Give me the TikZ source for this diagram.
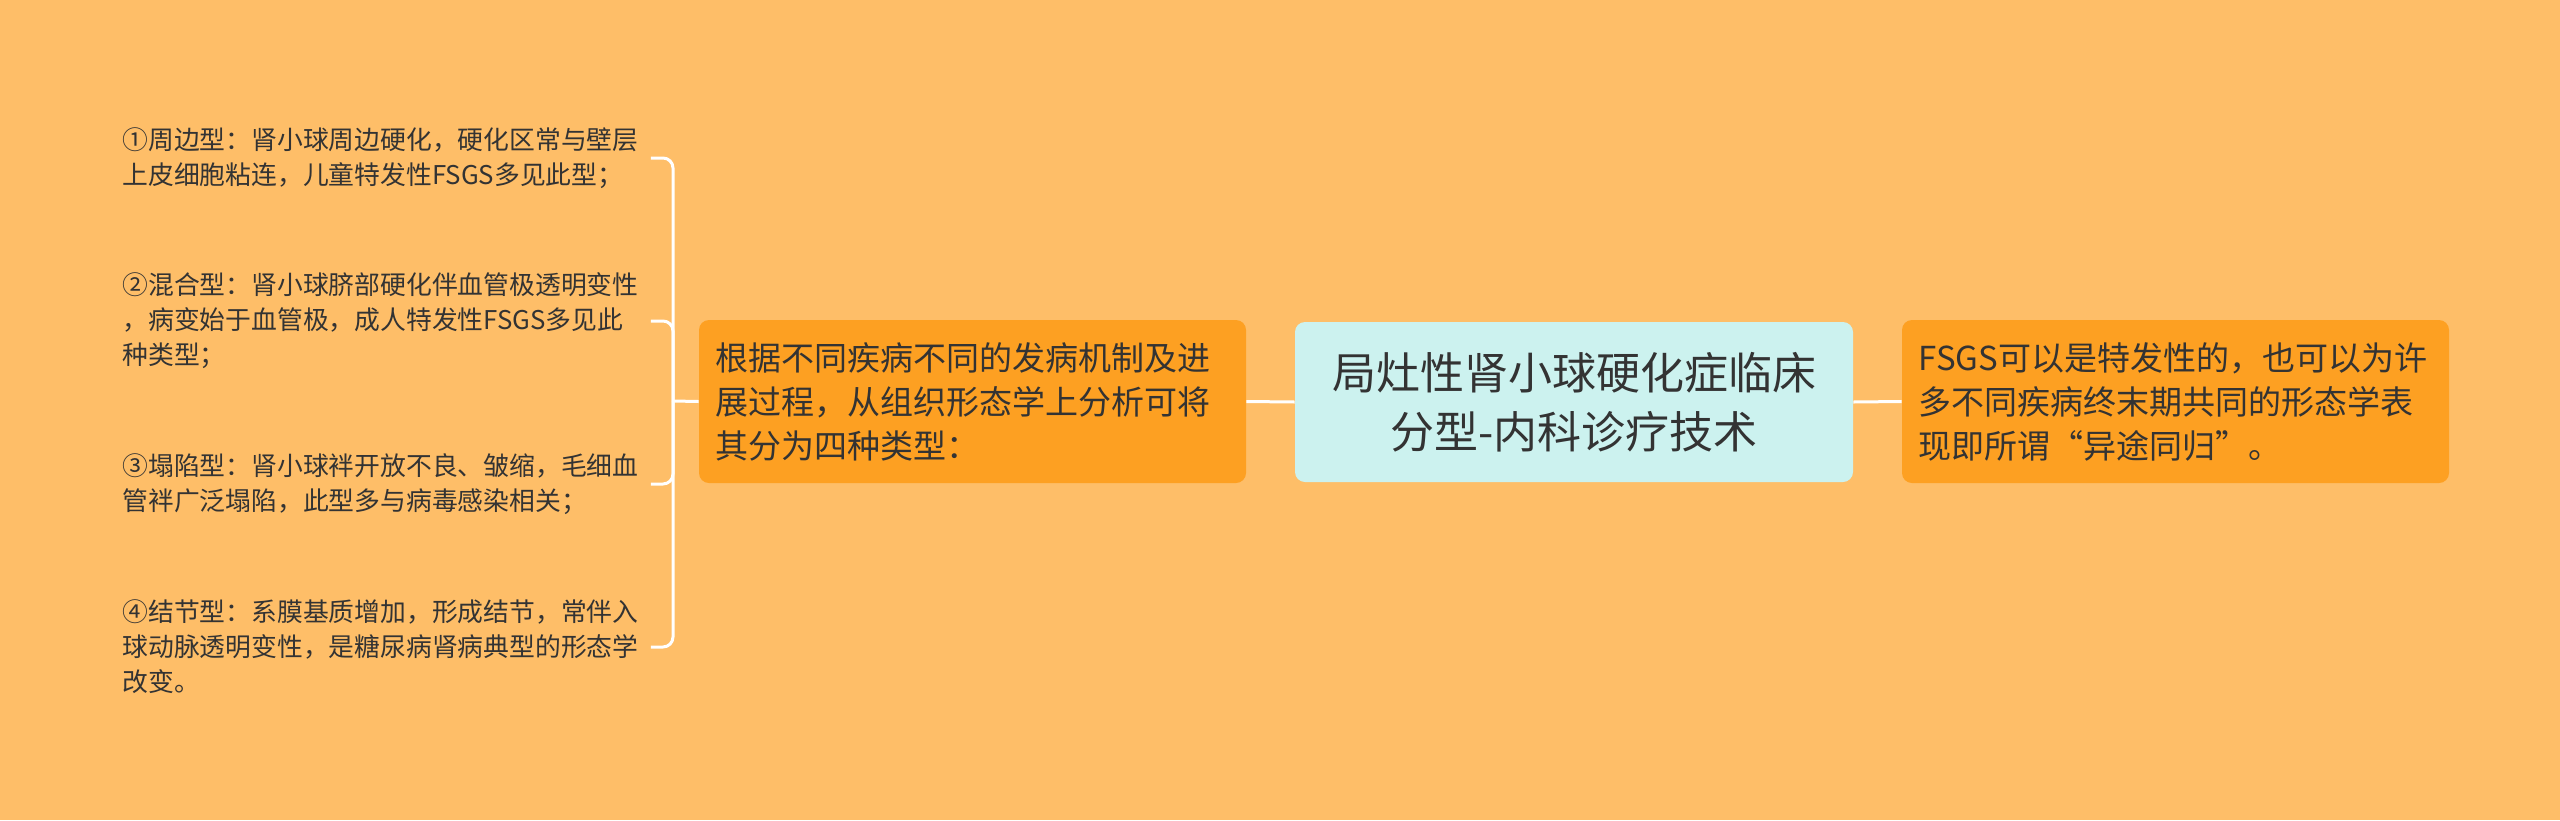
\documentclass[tikz,border=0pt]{standalone}
\usepackage{fontspec}
\setmainfont{Noto Sans CJK SC}
\definecolor{bgc}{RGB}{254,190,104}
\definecolor{boxc}{RGB}{253,160,34}
\definecolor{rootc}{RGB}{204,242,239}
\definecolor{txtc}{RGB}{51,51,51}
\tikzset{
  rootbox/.style={fill=rootc, rounded corners=5pt, minimum width=279pt, minimum height=80pt,
    align=center, text=txtc, inner sep=0pt, font=\fontsize{22}{29.5}\selectfont},
  subbox/.style={fill=boxc, rounded corners=5pt, minimum width=273.5pt, minimum height=81.5pt,
    text width=257pt, inner xsep=8.25pt, inner ysep=0pt, align=left, text=txtc,
    font=\fontsize{16.5}{22}\selectfont},
  leaf/.style={anchor=west, text width=264pt, inner sep=0pt, align=left, text=txtc,
    font=\fontsize{12.9}{17.5}\selectfont},
  conn/.style={draw=white, line width=1.5pt},
  brace/.style={conn, rounded corners=5pt}
}
\begin{document}
\begin{tikzpicture}[x=0.5pt,y=-0.5pt]
\fill[bgc] (0,0) rectangle (2560,820);
\useasboundingbox (0,0) rectangle (2560,820);

\node[rootbox] (root) at (1574,402) {局灶性肾小球硬化症临床\\分型-内科诊疗技术};
\node[subbox] (mid) at (972.5,401.5) {根据不同疾病不同的发病机制及进\\展过程，从组织形态学上分析可将\\其分为四种类型：};
\node[subbox] (right) at (2175.5,401.5) {FSGS可以是特发性的，也可以为许\\多不同疾病终末期共同的形态学表\\现即所谓“异途同归”。};

\node[leaf] (l1) at (122,158) {①周边型：肾小球周边硬化，硬化区常与壁层\\上皮细胞粘连，儿童特发性FSGS多见此型；};
\node[leaf] (l2) at (122,321) {②混合型：肾小球脐部硬化伴血管极透明变性\\，病变始于血管极，成人特发性FSGS多见此\\种类型；};
\node[leaf] (l3) at (122,484) {③塌陷型：肾小球袢开放不良、皱缩，毛细血\\管袢广泛塌陷，此型多与病毒感染相关；};
\node[leaf] (l4) at (122,647) {④结节型：系膜基质增加，形成结节，常伴入\\球动脉透明变性，是糖尿病肾病典型的形态学\\改变。};

\coordinate (j) at (673,401);
\draw[conn] (root.west) -- (mid.east);
\draw[conn] (root.east) -- (right.west);
\draw[conn] (j) -- (mid.west);
\draw[brace] (l1.east) -| (j);
\draw[brace] (l2.east) -| (j);
\draw[brace] (l3.east) -| (j);
\draw[brace] (l4.east) -| (j);
\end{tikzpicture}
\end{document}
